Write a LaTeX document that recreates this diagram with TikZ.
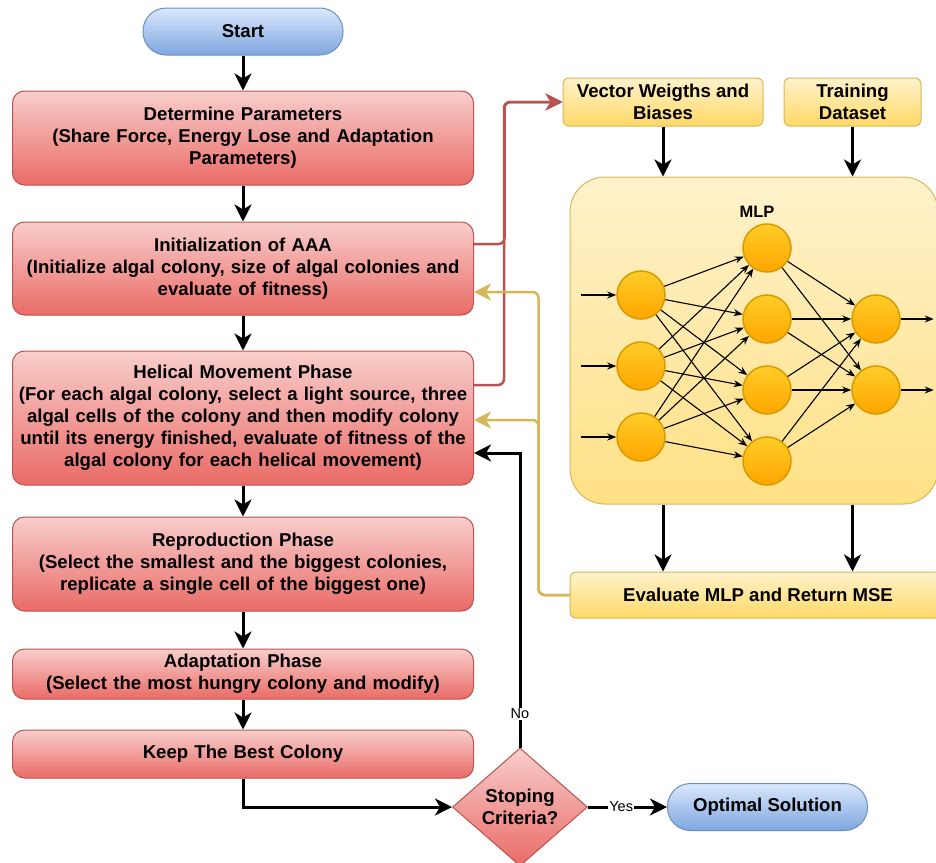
\documentclass[tikz,border=0pt]{standalone}
\usepackage{fontspec}
\setmainfont{Liberation Sans}
\usetikzlibrary{positioning, arrows}
\usetikzlibrary{arrows.meta}
\usetikzlibrary{shapes.geometric}

\definecolor{redtop}{HTML}{F8CECC}
\definecolor{redbot}{HTML}{EA6B66}
\definecolor{redline}{HTML}{B85450}
\definecolor{bluetop}{HTML}{DAE8FC}
\definecolor{bluebot}{HTML}{7EA6E0}
\definecolor{blueline}{HTML}{6C8EBF}
\definecolor{yeltop}{HTML}{FFF2CC}
\definecolor{yelbot}{HTML}{FFD966}
\definecolor{yelline}{HTML}{D6B656}
\definecolor{neutop}{HTML}{FFCD28}
\definecolor{neubot}{HTML}{FFA500}
\definecolor{neuline}{HTML}{D79B00}

\newcommand{\boxfont}{\fontsize{18.6}{22}\selectfont\bfseries}

\tikzset{
  phase/.style={rectangle, rounded corners=12pt, draw=redline, line width=1pt, top color=redtop, bottom color=redbot,
    text width=450pt, inner xsep=5.5pt, inner ysep=0pt, align=center, font=\boxfont},
  decision/.style={diamond, draw=redline, line width=1pt, top color=redtop, bottom color=redbot,
    minimum width=135pt, minimum height=118pt, inner sep=0pt, align=center, font=\boxfont},
  terminal/.style={rectangle, rounded corners=23pt, draw=blueline, line width=1pt, top color=bluetop, bottom color=bluebot,
    minimum width=200pt, minimum height=47pt, font=\boxfont},
  yelbox/.style={rectangle, rounded corners=6pt, draw=yelline, line width=1pt, top color=yeltop, bottom color=yelbot,
    inner sep=0pt, align=center, font=\boxfont},
  mlpbox/.style={rectangle, rounded corners=35pt, draw=yelline, line width=1pt, top color=yeltop, bottom color=yelbot!70!yeltop},
  neuron/.style={circle, draw=neuline, line width=1.5pt, top color=neutop, bottom color=neubot, minimum size=48pt, inner sep=0pt},
  flow/.style={->, line width=3pt},
  redflow/.style={->, line width=2.5pt, draw=redline, rounded corners=6pt},
  goldflow/.style={->, line width=2.5pt, draw=yelline, rounded corners=6pt},
  link/.style={-{Stealth[length=9pt,width=7pt]}, line width=1.1pt},
  lbl/.style={fill=white, inner sep=1pt, font=\fontsize{14.5}{14.5}\selectfont}
}

\begin{document}
\begin{tikzpicture}[x=1pt, y=1pt, >={Stealth[length=17pt,width=17pt,inset=5pt]}]
    \useasboundingbox (0,0) rectangle (936,-862);
    \clip (0,0) rectangle (936,-862);

    % Define nodes
    \node[terminal] (start) at (243,-31.5) {Start};
    \node[phase, minimum height=94pt, below=35pt of start] (param) {Determine Parameters\\(Share Force, Energy Lose and Adaptation\\Parameters)};
    \node[phase, minimum height=93pt, below=36pt of param] (init) {Initialization of AAA\\(Initialize algal colony, size of algal colonies and\\evaluate of fitness)};
    \node[phase, minimum height=134pt, below=35pt of init] (helix) {Helical Movement Phase\\(For each algal colony, select a light source, three\\algal cells of the colony and then modify colony\\until its energy finished, evaluate of fitness of the\\algal colony for each helical movement)};
    \node[phase, minimum height=94pt, below=31pt of helix] (repro) {Reproduction Phase\\(Select the smallest and the biggest colonies,\\replicate a single cell of the biggest one)};
    \node[phase, minimum height=50pt, below=37pt of repro] (adapt) {Adaptation Phase\\(Select the most hungry colony and modify)};
    \node[phase, minimum height=48pt, below=30pt of adapt] (keep) {Keep The Best Colony};
    \node[decision] (stop) at (520,-807) {Stoping\\Criteria?};
    \node[terminal, right=79pt of stop] (optimal) {Optimal Solution};

    % MLP side
    \node[yelbox, minimum width=200pt, minimum height=48pt] (weights) at (663,-102) {Vector Weigths and\\Biases};
    \node[yelbox, minimum width=137pt, minimum height=48pt] (data) at (852.5,-102) {Training\\Dataset};
    \node[mlpbox, minimum width=368pt, minimum height=327pt] (mlp) at (754,-340.5) {};
    \node[font=\fontsize{16.5}{16.5}\selectfont\bfseries] (mlptitle) at (757,-212) {MLP};
    \node[yelbox, minimum width=376pt, minimum height=46pt] (eval) at (758,-595) {Evaluate MLP and Return MSE};

    % Neurons
    \node[neuron] (i1) at (641,-295) {};
    \node[neuron, below of=i1, node distance=71pt] (i2) {};
    \node[neuron, below of=i2, node distance=71pt] (i3) {};
    \node[neuron] (h1) at (767,-248) {};
    \node[neuron, below of=h1, node distance=71pt] (h2) {};
    \node[neuron, below of=h2, node distance=71pt] (h3) {};
    \node[neuron, below of=h3, node distance=71pt] (h4) {};
    \node[neuron] (o1) at (876,-319) {};
    \node[neuron, below of=o1, node distance=71pt] (o2) {};
    \coordinate[left=35pt of i1] (x1);
    \coordinate[left=35pt of i2] (x2);
    \coordinate[left=35pt of i3] (x3);
    \coordinate[right=33pt of o1] (y1);
    \coordinate[right=33pt of o2] (y2);

    % Draw edges with arrows
    \draw[flow] (start) -- (param);
    \draw[flow] (param) -- (init);
    \draw[flow] (init) -- (helix);
    \draw[flow] (helix) -- (repro);
    \draw[flow] (repro) -- (adapt);
    \draw[flow] (adapt) -- (keep);
    \draw[flow] (keep.south) |- (stop.west);
    \draw[flow] (stop) -- node[lbl, pos=0.42] {Yes} (optimal);
    \draw[flow] (stop.north) |- node[lbl, pos=0.057] {No} ([yshift=-35pt]helix.east);

    \draw[redflow] ([yshift=24.5pt]init.east) -- ++(30.5,0) |- (weights.west);
    \draw[redflow] ([yshift=33pt]helix.east) -- ++(30,0) |- (weights.west);
    \draw[goldflow] (eval.west) -- ++(-31,0) |- ([yshift=-23.5pt]init.east);
    \draw[goldflow] (eval.west) -- ++(-31,0) |- ([yshift=-2pt]helix.east);

    \draw[flow] (weights.south) -- (weights.south |- mlp.north);
    \draw[flow] (data.south) -- (data.south |- mlp.north);
    \draw[flow] (mlp.south -| weights.south) -- (eval.north -| weights.south);
    \draw[flow] (mlp.south -| data.south) -- (eval.north -| data.south);

    % Network links
    \draw[link] (x1) -- (i1);
    \draw[link] (x2) -- (i2);
    \draw[link] (x3) -- (i3);
    \draw[link] (i1) -- (h1);
    \draw[link] (i1) -- (h2);
    \draw[link] (i1) -- (h3);
    \draw[link] (i1) -- (h4);
    \draw[link] (i2) -- (h1);
    \draw[link] (i2) -- (h2);
    \draw[link] (i2) -- (h3);
    \draw[link] (i2) -- (h4);
    \draw[link] (i3) -- (h1);
    \draw[link] (i3) -- (h2);
    \draw[link] (i3) -- (h3);
    \draw[link] (i3) -- (h4);
    \draw[link] (h1) -- (o1);
    \draw[link] (h1) -- (o2);
    \draw[link] (h2) -- (o1);
    \draw[link] (h2) -- (o2);
    \draw[link] (h3) -- (o1);
    \draw[link] (h3) -- (o2);
    \draw[link] (h4) -- (o1);
    \draw[link] (h4) -- (o2);
    \draw[link] (o1) -- (y1);
    \draw[link] (o2) -- (y2);

\end{tikzpicture}
\end{document}
